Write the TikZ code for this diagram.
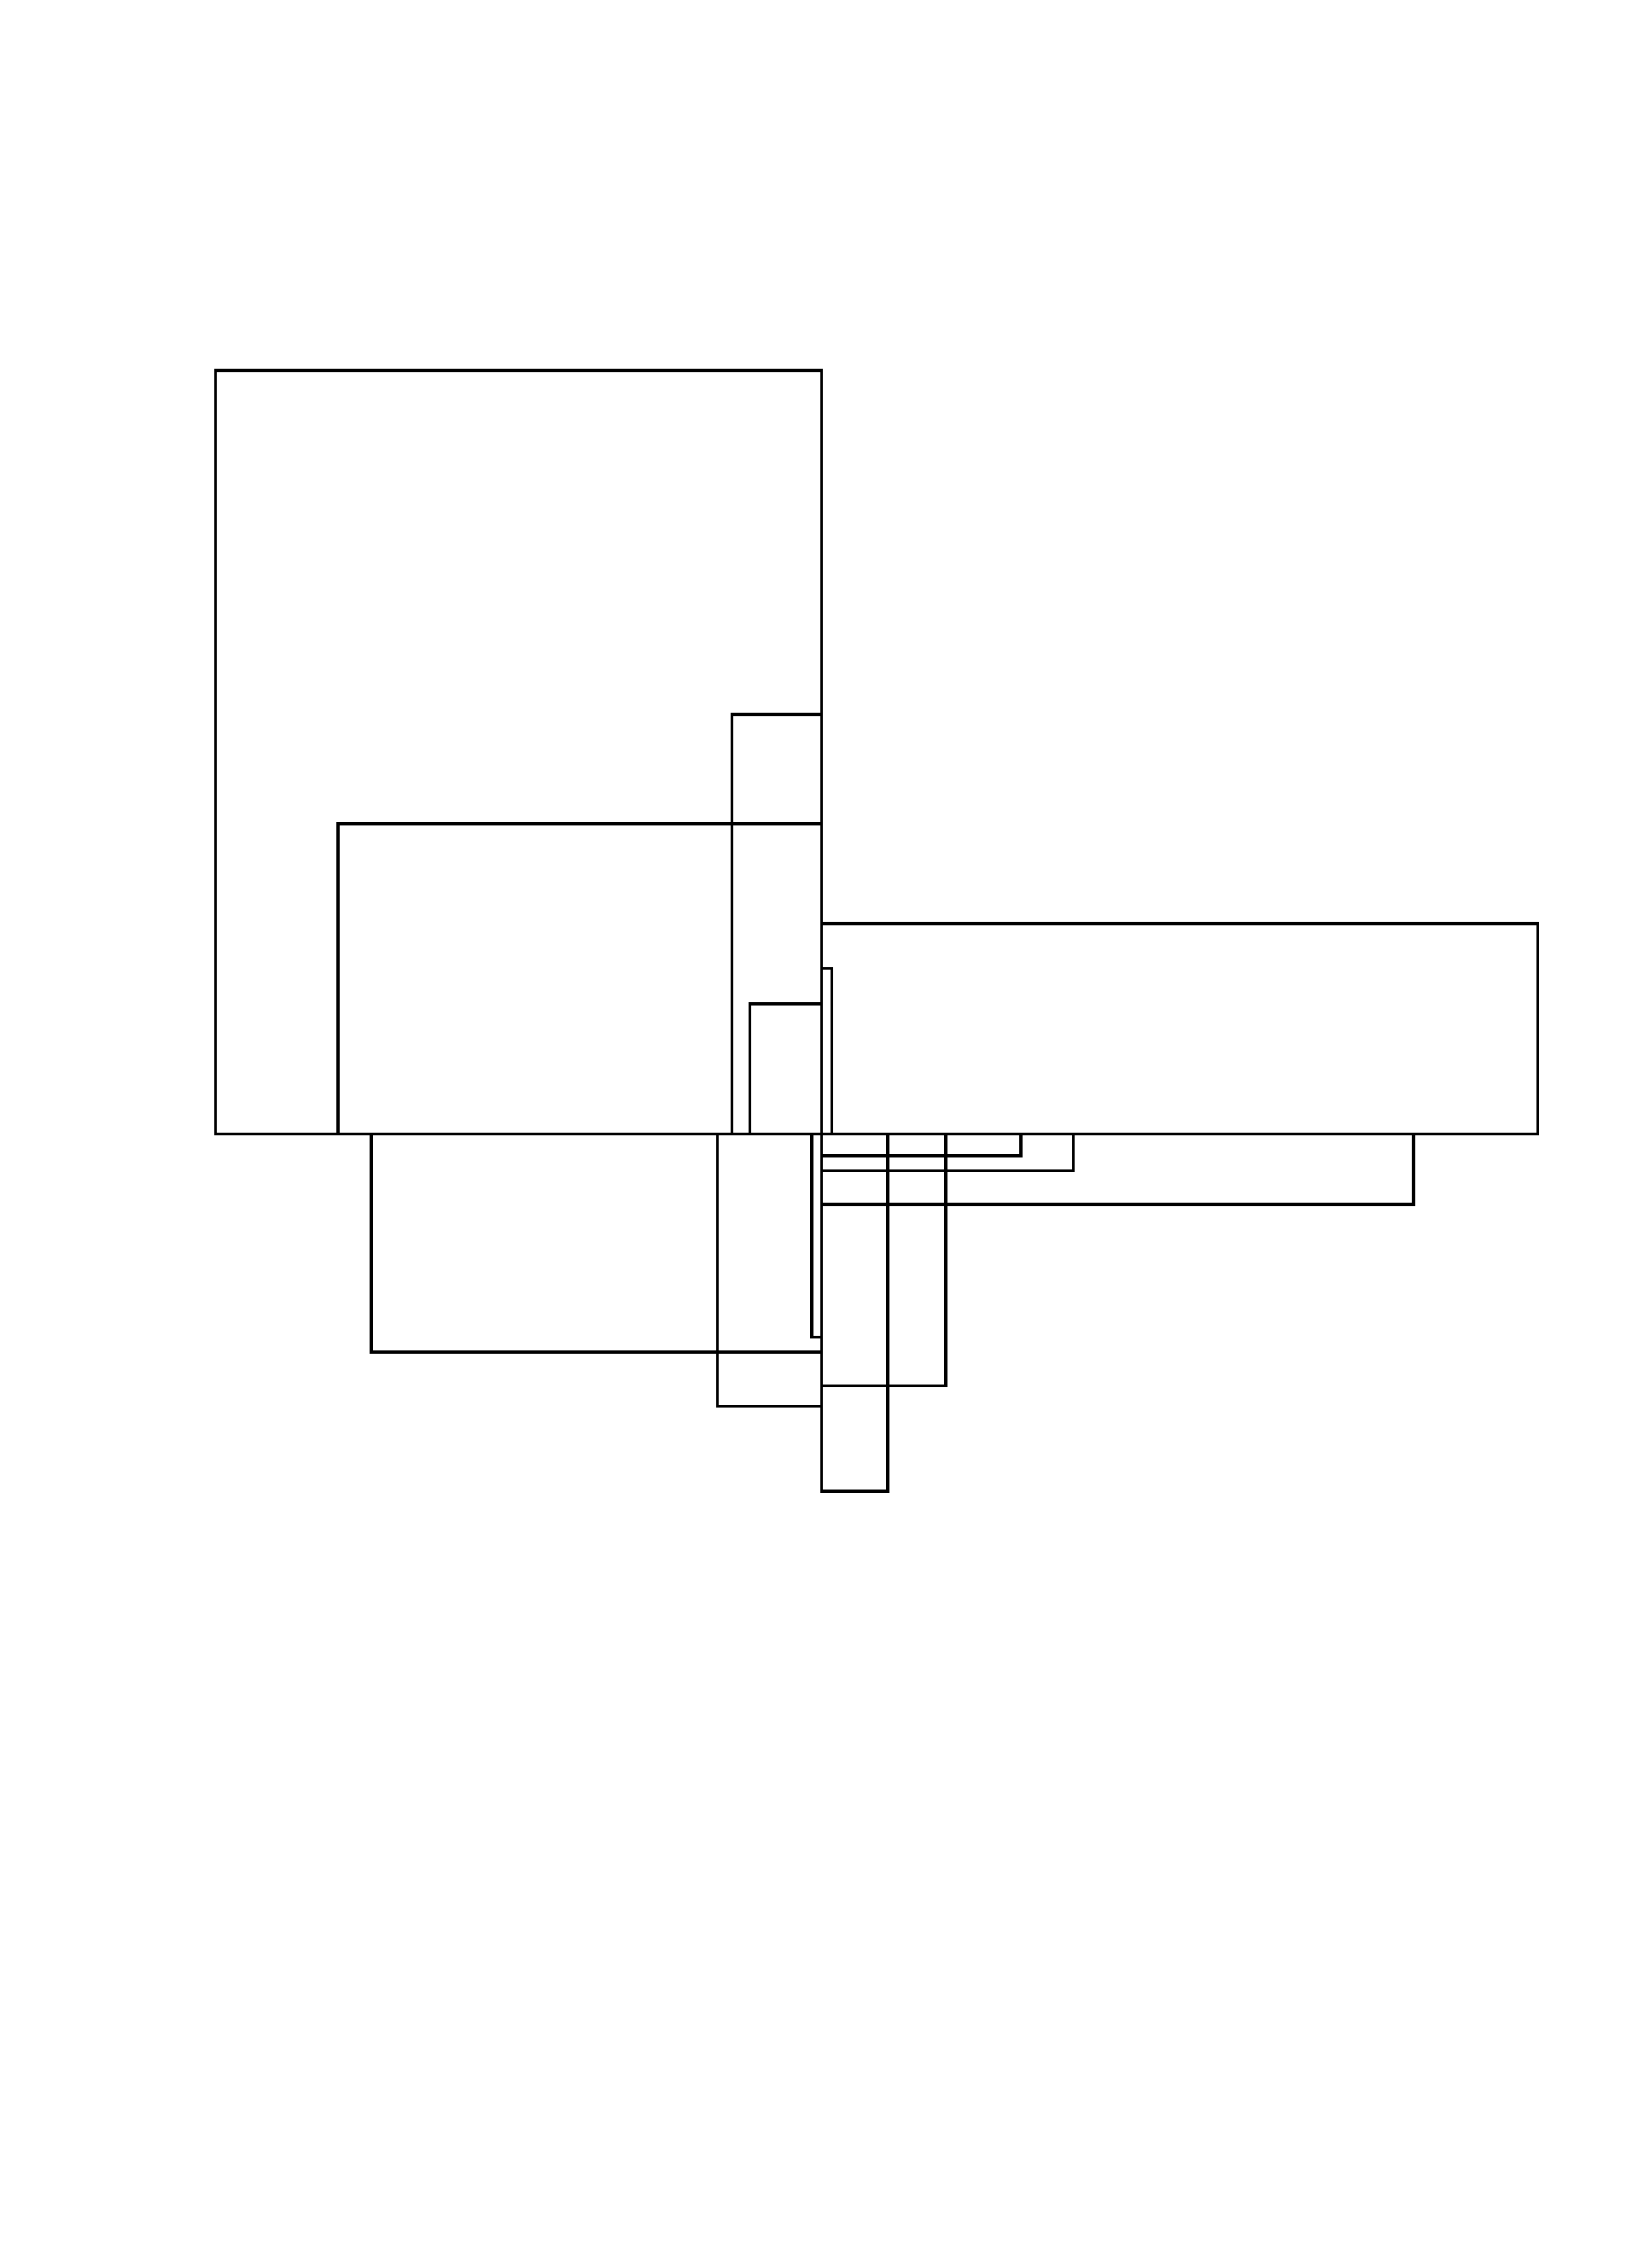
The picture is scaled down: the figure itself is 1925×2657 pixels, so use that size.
\documentclass[tikz,border=0pt]{standalone}
\begin{document}
\begin{tikzpicture}[x=1pt,y=-1pt,
  box/.style={draw=black,line width=3.4pt,line join=miter}]
\useasboundingbox (0,0) rectangle (1925,2657);
% upper group
\draw[box] (252.5,434) rectangle (962.5,1328.5);
\draw[box] (857.5,837) rectangle (962.5,1328.5);
\draw[box] (396,965) rectangle (962.5,1328.5);
\draw[box] (962.5,1082) rectangle (1801.5,1328.5);
\draw[box] (962.5,1134.5) rectangle (974.3,1328.5);
\draw[box] (878.5,1176) rectangle (962.5,1328.5);
% lower group
\draw[box] (435,1328.5) rectangle (962.5,1584);
\draw[box] (840.5,1328.5) rectangle (962.5,1647.5);
\draw[box] (951,1328.5) rectangle (962.5,1566.5);
\draw[box] (962.5,1328.5) rectangle (1196,1354);
\draw[box] (962.5,1328.5) rectangle (1257.5,1371.5);
\draw[box] (962.5,1328.5) rectangle (1656,1411);
\draw[box] (962.5,1328.5) rectangle (1108,1623.5);
\draw[box] (962.5,1328.5) rectangle (1040,1747);
\end{tikzpicture}
\end{document}
